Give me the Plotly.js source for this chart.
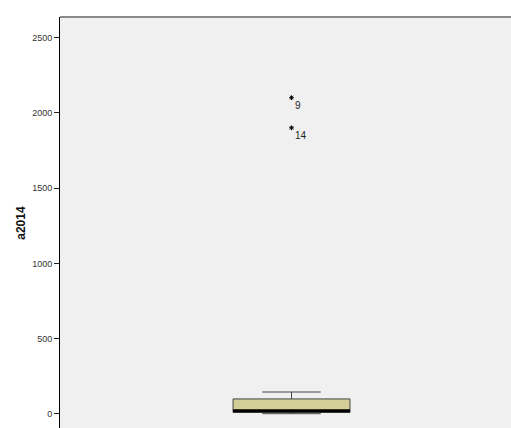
<!DOCTYPE html>
<html><head><meta charset="utf-8">
<script src="https://cdn.plot.ly/plotly-3.0.1.min.js"></script>
<style>html,body{margin:0;padding:0;background:#fff}#c{width:511px;height:428px}</style>
</head><body><div id="c"></div>
<script>
const variableName = "a2014";
const q1 = [10];
const median = [22];
const q3 = [100];
const lowerFence = [2];
const upperFence = [146];
const outlierValues = [2100, 1900];
const outlierLabels = ["9", "14"];
const tickValues = [0, 500, 1000, 1500, 2000, 2500];

const boxCenter = 0;
const boxWidth = 0.505;

const traces = [
  {
    type: "box", x: [boxCenter], q1: q1, median: median, q3: q3,
    lowerfence: lowerFence, upperfence: upperFence,
    width: boxWidth, whiskerwidth: 0.5,
    fillcolor: "#D3CE97", line: {color: "#444444", width: 1},
    boxpoints: false, hoverinfo: "skip", showlegend: false
  },
  {
    type: "scatter", mode: "lines",
    x: [boxCenter - boxWidth / 2, boxCenter + boxWidth / 2],
    y: [median[0], median[0]],
    line: {color: "#000000", width: 3}, hoverinfo: "skip", showlegend: false
  },
  {
    type: "scatter", mode: "markers+text",
    x: outlierValues.map(() => boxCenter), y: outlierValues,
    text: outlierLabels, textposition: "bottom right",
    textfont: {family: "Liberation Sans, Arial, sans-serif", size: 10, color: "#222"},
    marker: {symbol: "asterisk-open", size: 4, color: "#000", line: {color: "#000", width: 1}},
    hoverinfo: "skip", showlegend: false
  }
];

const layout = {
  width: 511, height: 428,
  margin: {l: 60, r: 0, t: 17, b: 0},
  paper_bgcolor: "#ffffff", plot_bgcolor: "#F0F0F0",
  xaxis: {range: [-1, 0.948], showticklabels: false, ticks: "", showgrid: false, zeroline: false, showline: false, fixedrange: true},
  yaxis: {
    range: [-93, 2636], tickvals: tickValues, ticktext: tickValues.map(String),
    ticks: "outside", ticklen: 5, tickwidth: 1, tickcolor: "#222",
    showline: true, linecolor: "#000", linewidth: 1,
    showgrid: false, zeroline: false,
    tickfont: {family: "Liberation Sans, Arial, sans-serif", size: 9, color: "#333"}
  },
  annotations: [
    {text: "<b>" + variableName + "</b>", xref: "paper", yref: "y", x: 0, y: 1270,
     xanchor: "center", yanchor: "middle", xshift: -39, textangle: -90, showarrow: false,
     font: {family: "Liberation Sans, Arial, sans-serif", size: 12, color: "#111"}}
  ],
  shapes: [
    {type: "line", xref: "paper", yref: "paper", x0: 0, x1: 1, y0: 1, y1: 1, line: {color: "#8a8a8a", width: 2}}
  ]
};
Plotly.newPlot("c", traces, layout, {staticPlot: true, displayModeBar: false});
</script>
</body></html>
